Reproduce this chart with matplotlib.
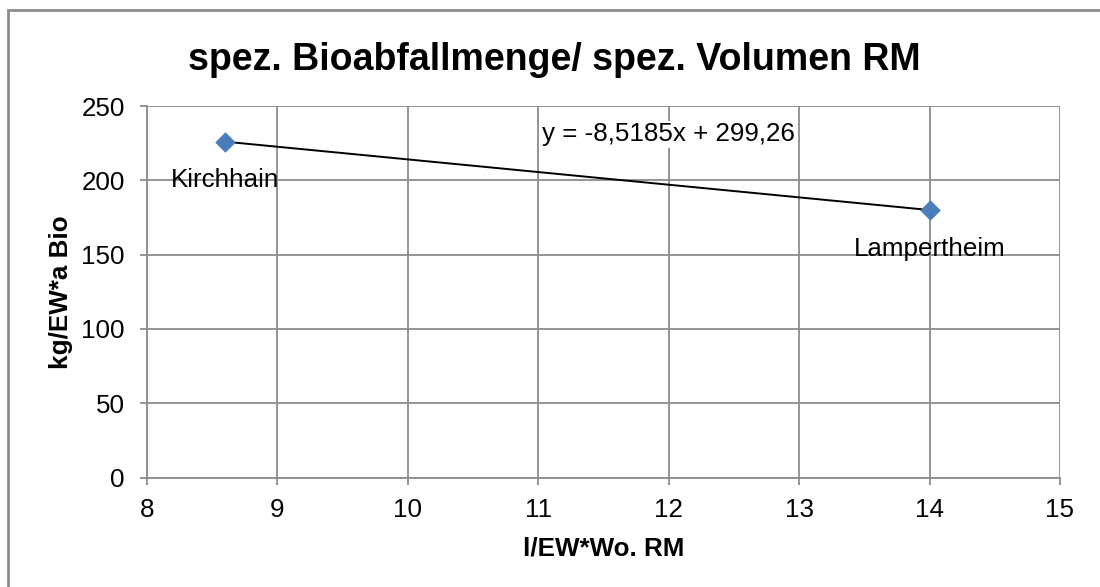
import matplotlib
matplotlib.use("Agg")
import matplotlib.pyplot as plt
from matplotlib.patches import Rectangle

plt.rcParams["font.family"] = ["Liberation Sans", "DejaVu Sans"]

# data
sites = ["Kirchhain", "Lampertheim"]
volume = [8.6, 14.0]        # l/EW*Wo. RM
bio = [226.0, 180.0]        # kg/EW*a Bio
slope, intercept = -8.5185, 299.26

GRID = "#8C8C8C"
MARKER = "#4A7EBB"
FS = 18.7

fig = plt.figure(figsize=(11, 5.87), dpi=100)
ax = fig.add_axes([0.1336, 0.1865, 0.830, 0.6329])

# outer chart border (runs off the right and bottom edge)
fig.patches.append(Rectangle((8 / 1100, -0.05), 1.1, 1 - 10 / 587 + 0.05,
                             transform=fig.transFigure, fill=False,
                             edgecolor="#8C8C8C", lw=2))

# trend line
xs = [min(volume), max(volume)]
ax.plot(xs, [slope * x + intercept for x in xs], color="black", lw=1.4, zorder=3)
ax.scatter(volume, bio, marker="D", s=110, color=MARKER, zorder=4, linewidths=0)

ax.text(12.0, 231, "y = -8,5185x + 299,26", ha="center", va="center", fontsize=FS,
        bbox=dict(fc="white", ec="none", pad=1), zorder=5)
label_pos = [(8.6, 200), (14.0, 154)]
for name, (lx, ly) in zip(sites, label_pos):
    ax.text(lx, ly, name, ha="center", va="center", fontsize=FS, zorder=5)

ax.set_xlim(8, 15)
ax.set_ylim(0, 250)
ax.set_xticks(range(8, 16))
ax.set_yticks(range(0, 251, 50))
ax.grid(True, color=GRID, lw=1.3)
ax.set_axisbelow(True)
for s in ["top", "right"]:
    ax.spines[s].set_visible(False)
for s in ["left", "bottom"]:
    ax.spines[s].set_color(GRID)
    ax.spines[s].set_linewidth(1.3)
ax.tick_params(colors=GRID, labelcolor="black", labelsize=FS, length=5, width=1.3)
ax.tick_params(axis="y", pad=11)
ax.tick_params(axis="x", pad=10)

ax.set_xlabel("l/EW*Wo. RM", fontsize=FS, fontweight="bold", labelpad=10.5)
ax.set_ylabel("kg/EW*a Bio", fontsize=FS, fontweight="bold", labelpad=6)
fig.text(0.504, 1 - 70 / 587, "spez. Bioabfallmenge/ spez. Volumen RM", ha="center",
         va="baseline", fontsize=27, fontweight="bold")

fig.savefig("out.png", dpi=100, facecolor="white")
